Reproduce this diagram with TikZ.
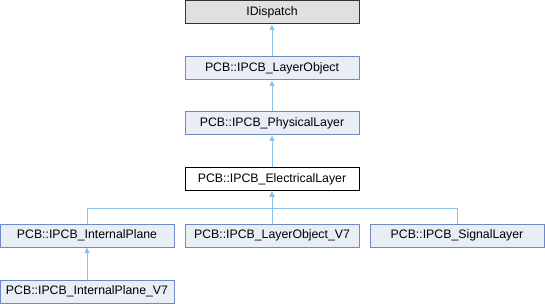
\documentclass[tikz,border=0pt]{standalone}
\usepackage{fontspec}
\setmainfont{Liberation Sans}
\usetikzlibrary{arrows.meta}
\definecolor{edgec}{HTML}{8CC4E8}
\definecolor{boxfill}{HTML}{E8EDF6}
\definecolor{boxdraw}{HTML}{7088C4}
\definecolor{rootfill}{HTML}{E0E0E0}
\begin{document}
\begin{tikzpicture}[x=1pt,y=-1pt,
  cls/.style={draw=boxdraw,fill=boxfill,line width=1pt,minimum width=174pt,minimum height=23pt,inner sep=0pt,font=\fontsize{12.3}{14}\selectfont},
  rootcls/.style={cls,draw=black!80,fill=rootfill},
  curcls/.style={cls,draw=black,fill=white},
  inh/.style={draw=edgec,line width=1pt,-{Triangle[length=5.5pt,width=5pt]}}]
\useasboundingbox (0,0) rectangle (545,304);
\node[rootcls] (idisp) at (272,12.5) {IDispatch};
\node[cls] (lobj) at (272,68.5) {PCB::IPCB\_LayerObject};
\node[cls] (phys) at (272,123.5) {PCB::IPCB\_PhysicalLayer};
\node[curcls] (elec) at (272,179.5) {PCB::IPCB\_ElectricalLayer};
\node[cls] (iplane) at (87,235.5) {PCB::IPCB\_InternalPlane};
\node[cls] (lobj7) at (272,235.5) {PCB::IPCB\_LayerObject\_V7};
\node[cls] (sig) at (457,235.5) {PCB::IPCB\_SignalLayer};
\node[cls] (iplane7) at (87,291.5) {PCB::IPCB\_InternalPlane\_V7};
\coordinate (bus) at (272,208);
\draw[inh] (lobj) -- (idisp);
\draw[inh] (phys) -- (lobj);
\draw[inh] (elec) -- (phys);
\draw[inh] (lobj7) -- (elec);
\draw[inh] (iplane.north) |- (bus) -- (elec.south);
\draw[inh] (sig.north) |- (bus) -- (elec.south);
\draw[inh] (iplane7) -- (iplane);
\end{tikzpicture}
\end{document}
